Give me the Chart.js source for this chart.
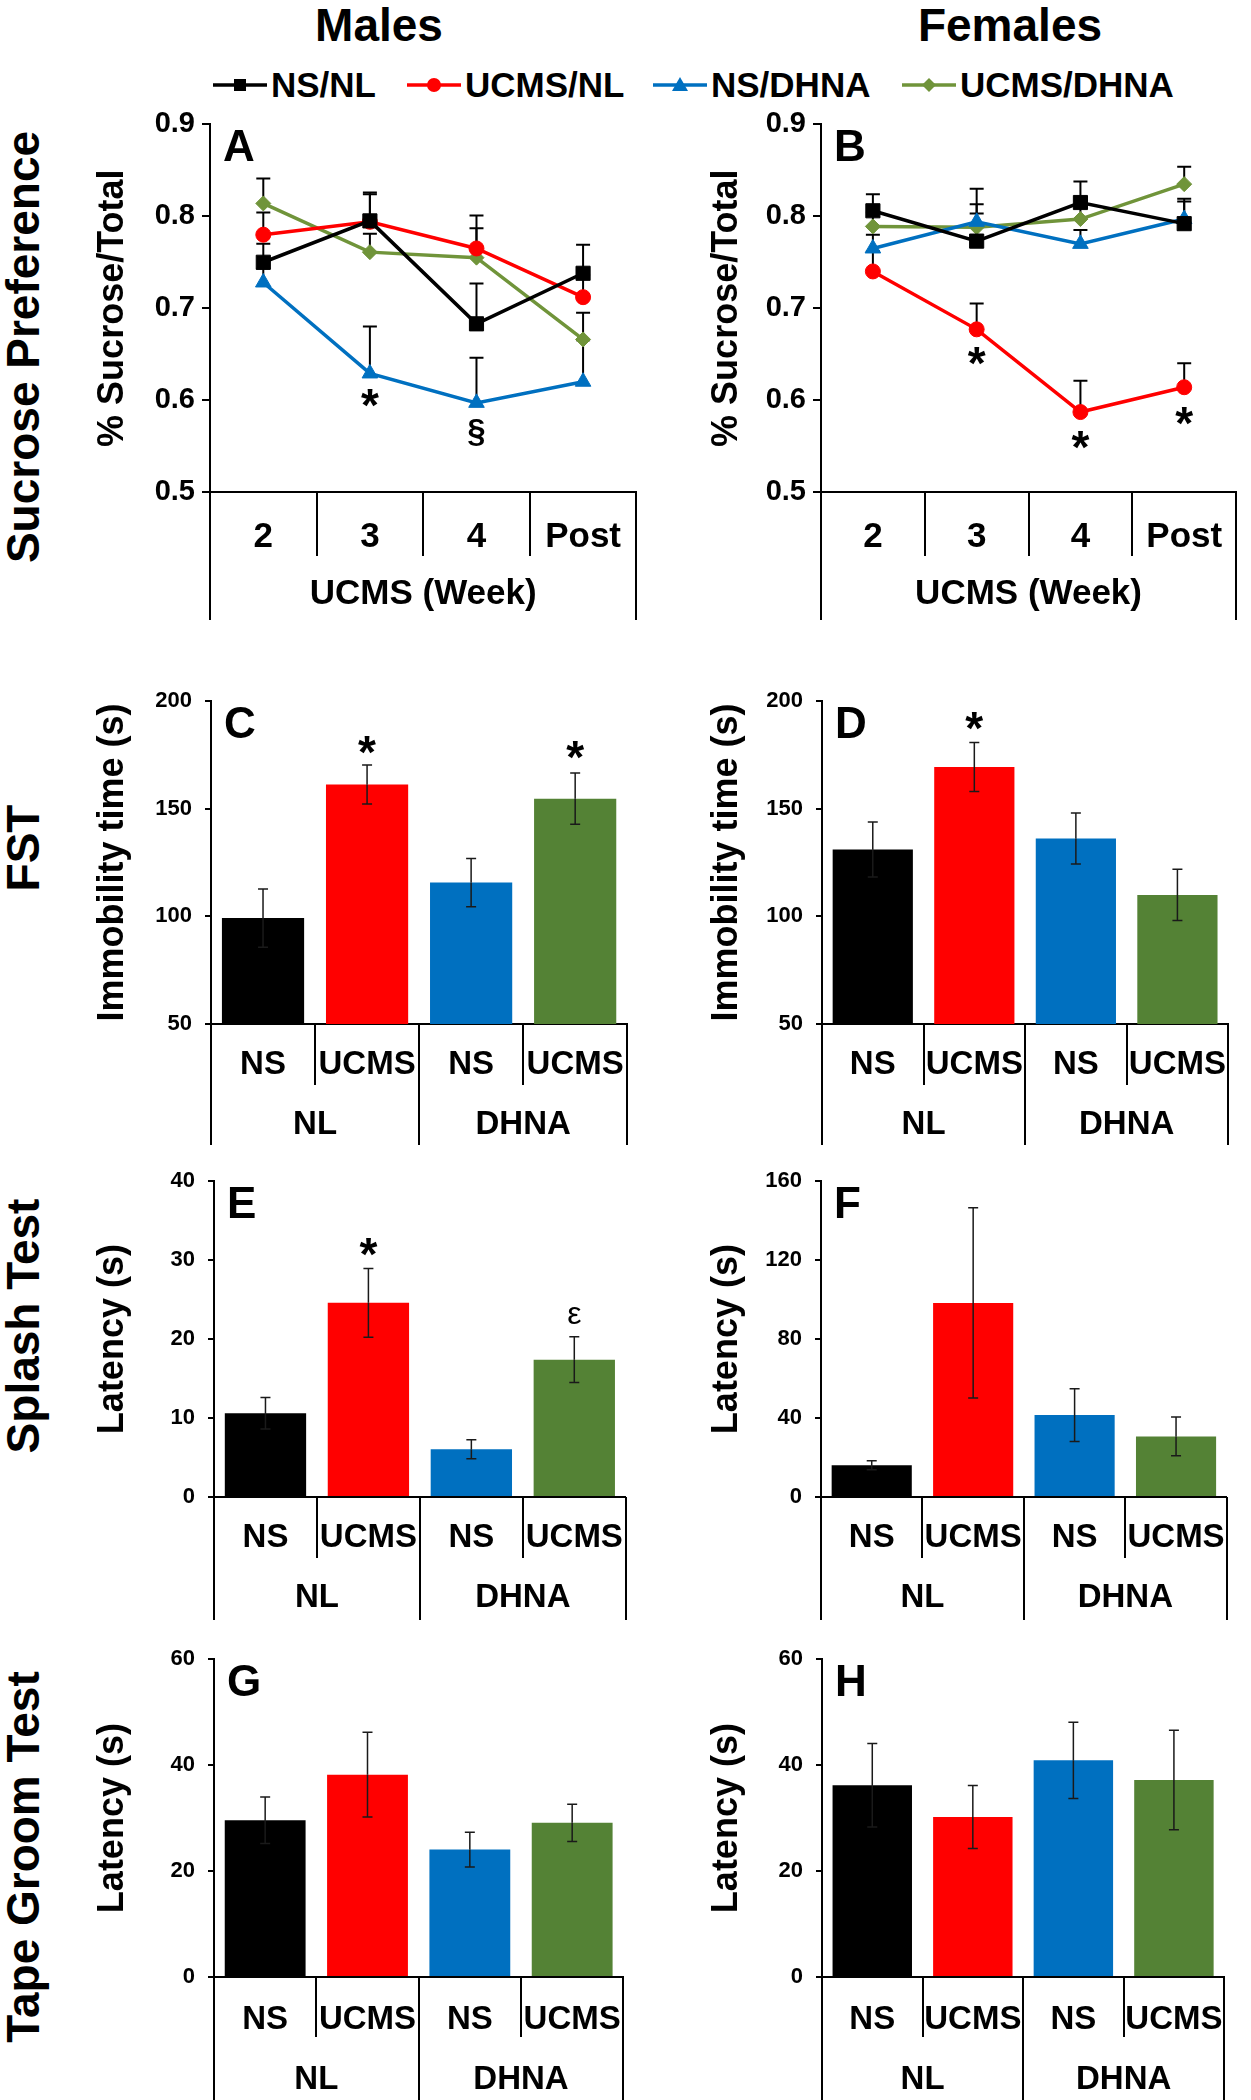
<!DOCTYPE html>
<html><head><meta charset="utf-8">
<script src="https://cdn.jsdelivr.net/npm/chart.js@4.4.1/dist/chart.umd.min.js"></script>
<style>
html,body{margin:0;padding:0;background:#fff;}
body{width:1251px;height:2100px;position:relative;overflow:hidden;font-family:"Liberation Sans",Arial,Helvetica,sans-serif;color:#000;}
.row{position:absolute;transform:translate(-50%,-50%) rotate(-90deg);white-space:nowrap;font-weight:bold;font-size:46px;line-height:1;}
.head{position:absolute;transform:translateX(-50%);font-weight:bold;font-size:46px;line-height:1;top:2px;white-space:nowrap;}
.leg{position:absolute;top:67px;display:flex;align-items:center;font-weight:bold;font-size:35px;line-height:35px;white-space:nowrap;}
.leg svg{margin-right:4px;display:block;}
canvas{position:absolute;}
</style></head>
<body>
<div class="head" style="left:379px">Males</div>
<div class="head" style="left:1010px">Females</div>
<div class="row" style="left:23px;top:347px">Sucrose Preference</div>
<div class="row" style="left:23px;top:848px">FST</div>
<div class="row" style="left:23px;top:1326px">Splash Test</div>
<div class="row" style="left:23px;top:1857px">Tape Groom Test</div>
<div id="legend"></div>

<canvas id="cA" width="580" height="520" style="left:70px;top:100px"></canvas>
<canvas id="cB" width="571" height="520" style="left:680px;top:100px"></canvas>
<canvas id="cC" width="580" height="470" style="left:70px;top:675px"></canvas>
<canvas id="cD" width="571" height="470" style="left:680px;top:675px"></canvas>
<canvas id="cE" width="580" height="465" style="left:70px;top:1155px"></canvas>
<canvas id="cF" width="571" height="465" style="left:680px;top:1155px"></canvas>
<canvas id="cG" width="580" height="467" style="left:70px;top:1633px"></canvas>
<canvas id="cH" width="571" height="467" style="left:680px;top:1633px"></canvas>

<script>
// ---------------- DATA ----------------
const weeks = ['2', '3', '4', 'Post'];
const stressLabels = ['NS', 'UCMS', 'NS', 'UCMS'];
const dietLabels = ['NL', 'DHNA'];
const groupNames = ['NS/NL', 'UCMS/NL', 'NS/DHNA', 'UCMS/DHNA'];

// A: Males, sucrose preference (mean, +SEM)
const spMaleNSNL      = [0.750, 0.795, 0.683, 0.738];
const spMaleUCMSNL    = [0.780, 0.794, 0.765, 0.712];
const spMaleNSDHNA    = [0.728, 0.629, 0.597, 0.620];
const spMaleUCMSDHNA  = [0.814, 0.761, 0.755, 0.666];
const spMaleNSNLErr     = [0.020, 0.031, 0.044, 0.031];
const spMaleUCMSNLErr   = [0.024, 0.030, 0.036, 0.024];
const spMaleNSDHNAErr   = [0.015, 0.051, 0.049, 0.045];
const spMaleUCMSDHNAErr = [0.027, 0.020, 0.032, 0.029];

// B: Females, sucrose preference
const spFemNSNL      = [0.806, 0.773, 0.815, 0.792];
const spFemUCMSNL    = [0.740, 0.677, 0.587, 0.614];
const spFemNSDHNA    = [0.765, 0.794, 0.770, 0.797];
const spFemUCMSDHNA  = [0.789, 0.788, 0.797, 0.835];
const spFemNSNLErr     = [0.018, 0.040, 0.023, 0.027];
const spFemUCMSNLErr   = [0.022, 0.028, 0.034, 0.026];
const spFemNSDHNAErr   = [0.015, 0.036, 0.015, 0.019];
const spFemUCMSDHNAErr = [0.015, 0.015, 0.015, 0.019];

// C/D: FST immobility time (s)
const fstMale      = [99.2, 161.3, 115.7, 154.7];
const fstMaleErr   = [13.5, 9.1, 11.2, 11.9];
const fstFemale    = [131.1, 169.4, 136.2, 110.0];
const fstFemaleErr = [12.8, 11.4, 11.8, 11.9];

// E/F: Splash test latency (s)
const splashMale      = [10.6, 24.6, 6.05, 17.4];
const splashMaleErr   = [2.0, 4.35, 1.2, 2.9];
const splashFemale    = [16.1, 98.3, 41.5, 30.7];
const splashFemaleErr = [2.3, 48.2, 13.4, 9.8];

// G/H: Tape groom test latency (s)
const tapeMale      = [29.6, 38.2, 24.05, 29.1];
const tapeMaleErr   = [4.4, 8.0, 3.3, 3.5];
const tapeFemale    = [36.2, 30.2, 40.9, 37.2];
const tapeFemaleErr = [7.9, 5.95, 7.2, 9.4];

// significance marks: [category index, y value, symbol]
const marksA = [[1, 0.602, '*'], [2, 0.565, '§']];
const marksB = [[1, 0.648, '*'], [2, 0.557, '*'], [3, 0.583, '*']];
const marksC = [[1, 179.6, '*'], [3, 177.3, '*']];
const marksD = [[1, 191.0, '*']];
const marksE = [[1, 31.7, '*'], [3, 23.0, 'ε']];

// ---------------- STYLE ----------------
const FONT = '"Liberation Sans", Arial, Helvetica, sans-serif';
Chart.defaults.font.family = FONT;
Chart.defaults.color = '#000';
const lineColors = ['#000000', '#FF0000', '#0070C0', '#70943A'];
const barColors  = ['#000000', '#FF0000', '#0070C0', '#548235'];
const pointStyles = ['rect', 'circle', 'triangle', 'rectRot'];
const pointRadii  = [10, 7.5, 9, 7.5];

// legend (HTML)
(function () {
  const lefts = [213, 407, 653, 902];
  const marker = [
    c => `<rect x="21" y="4" width="12" height="12" fill="${c}"/>`,
    c => `<circle cx="27" cy="10" r="7" fill="${c}"/>`,
    c => `<polygon points="27,2 35,16 19,16" fill="${c}"/>`,
    c => `<polygon points="27,3 34,10 27,17 20,10" fill="${c}"/>`
  ];
  const host = document.getElementById('legend');
  groupNames.forEach((name, k) => {
    const d = document.createElement('div');
    d.className = 'leg';
    d.style.left = lefts[k] + 'px';
    d.innerHTML = `<svg width="54" height="20"><line x1="0" y1="10" x2="54" y2="10" stroke="${lineColors[k]}" stroke-width="3.5"/>${marker[k](lineColors[k])}</svg><span>${name}</span>`;
    host.appendChild(d);
  });
})();

// ---------------- PLUGIN ----------------
function drawErrors(chart, o) {
  const ctx = chart.ctx;
  ctx.save();
  ctx.strokeStyle = o.errColor || '#000';
  ctx.lineWidth = o.errWidth || 2;
  chart.data.datasets.forEach((ds, di) => {
    const meta = chart.getDatasetMeta(di);
    const ys = chart.scales[meta.yAxisID];
    ds.data.forEach((v, i) => {
      const el = meta.data[i];
      if (!el) return;
      const x = el.x;
      const y0 = ys.getPixelForValue(v);
      const half = (o.capW || 10) / 2;
      [ds.errUp ? ds.errUp[i] : null, ds.errDown ? -ds.errDown[i] : null].forEach(e => {
        if (e === null || e === undefined) return;
        const y1 = ys.getPixelForValue(v + e);
        ctx.beginPath();
        ctx.moveTo(x, y0); ctx.lineTo(x, y1);
        ctx.moveTo(x - half, y1); ctx.lineTo(x + half, y1);
        ctx.stroke();
      });
    });
  });
  ctx.restore();
}
function drawFrame(chart, o) {
  const ctx = chart.ctx, xs = chart.scales.x, ca = chart.chartArea;
  const n = xs.getLabels().length;
  const w = (xs.right - xs.left) / n;
  ctx.save();
  ctx.strokeStyle = '#000';
  ctx.lineWidth = 2;
  for (let i = 0; i <= n; i++) {
    const x = Math.round(xs.left + i * w);
    let yEnd;
    if (o.frame === 'line') {
      yEnd = (i === 0 || i === n) ? ca.bottom + o.outer : ca.bottom + o.inner;
    } else {
      const x2 = chart.scales.x2;
      yEnd = (i % 2 === 0) ? x2.bottom : xs.bottom;
    }
    ctx.beginPath();
    ctx.moveTo(x, ca.bottom); ctx.lineTo(x, yEnd);
    ctx.stroke();
  }
  ctx.restore();
}
function drawMarks(chart, o) {
  if (!o.marks) return;
  const ctx = chart.ctx, xs = chart.scales.x, ys = chart.scales.y;
  ctx.save();
  ctx.fillStyle = '#000';
  ctx.textAlign = 'center';
  ctx.textBaseline = 'alphabetic';
  o.marks.forEach(m => {
    const sym = m[2];
    ctx.font = sym === '*' ? `bold 46px ${FONT}` : (sym === '§' ? `bold 33px ${FONT}` : `32px ${FONT}`);
    const x = xs.getPixelForValue(m[0]);
    const yc = ys.getPixelForValue(m[1]);
    const mt = ctx.measureText(sym);
    const asc = mt.actualBoundingBoxAscent, desc = mt.actualBoundingBoxDescent;
    ctx.fillText(sym, x, yc + (asc - desc) / 2);
  });
  ctx.restore();
}
function drawLetter(chart, o) {
  const ctx = chart.ctx, ca = chart.chartArea;
  ctx.save();
  ctx.fillStyle = '#000';
  ctx.font = `bold 44px ${FONT}`;
  ctx.textAlign = 'left';
  ctx.textBaseline = 'alphabetic';
  ctx.fillText(o.letter, ca.left + 13, ca.top + 37);
  ctx.restore();
}
const panelDecor = {
  id: 'panelDecor',
  beforeDatasetsDraw(chart, args, o) { if (o.errBehind) drawErrors(chart, o); },
  afterDatasetsDraw(chart, args, o) {
    if (!o.errBehind) drawErrors(chart, o);
    drawFrame(chart, o);
    drawMarks(chart, o);
    drawLetter(chart, o);
  }
};

// ---------------- AXES ----------------
function mkY(c) {
  return {
    position: 'left', min: c.min, max: c.max,
    ticks: {stepSize: c.step, font: {size: c.tickSize, weight: 'bold'}, color: '#000', padding: c.tickPad,
            callback: c.fmt || (v => v)},
    grid: {drawOnChartArea: false, drawTicks: true, tickLength: c.tickLen, color: '#000', lineWidth: 2},
    border: {display: true, color: '#000', width: 2},
    title: {display: true, text: c.title, color: '#000', font: {size: 36, weight: 'bold', lineHeight: 1},
            padding: {top: c.tPad, bottom: 0}},
    afterFit: s => { s.width = c.w; }
  };
}

function lineChart(c) {
  const datasets = c.series.map((d, k) => ({
    label: groupNames[k], data: d, errUp: c.errs[k],
    borderColor: lineColors[k], backgroundColor: lineColors[k],
    pointBackgroundColor: lineColors[k], pointBorderColor: lineColors[k],
    pointStyle: pointStyles[k], pointRadius: pointRadii[k], pointBorderWidth: 1,
    borderWidth: 3.5, tension: 0, fill: false, xAxisID: 'x', yAxisID: 'y'
  }));
  return new Chart(document.getElementById(c.id), {
    type: 'line',
    data: {labels: weeks, datasets},
    options: {
      responsive: false, animation: false, devicePixelRatio: 1,
      layout: {padding: {top: 18, right: c.padR, left: 0, bottom: 0}},
      plugins: {legend: {display: false}, tooltip: {enabled: false},
        panelDecor: {letter: c.letter, frame: 'line', inner: 64, outer: 128, marks: c.marks,
                     errBehind: true, errWidth: 2, errColor: '#000', capW: 14}},
      scales: {
        x: {type: 'category', offset: true, grid: {display: false, drawTicks: false},
            border: {display: true, color: '#000', width: 2},
            ticks: {font: {size: 35, weight: 'bold', lineHeight: 1}, color: '#000', padding: 27.5,
                    maxRotation: 0, minRotation: 0, autoSkip: false},
            title: {display: true, text: 'UCMS (Week)', color: '#000',
                    font: {size: 35, weight: 'bold', lineHeight: 1}, padding: {top: 0, bottom: 8.5}},
            afterFit: s => { s.height = 128; }},
        y: mkY({min: 0.5, max: 0.9, step: 0.1, tickSize: 29, tickPad: 7, tickLen: 8,
                fmt: v => Number(v).toFixed(1), title: '% Sucrose/Total', tPad: c.tPad, w: c.yW})
      }
    },
    plugins: [panelDecor]
  });
}

function barChart(c) {
  return new Chart(document.getElementById(c.id), {
    type: 'bar',
    data: {labels: stressLabels, datasets: [{
      data: c.values, errUp: c.errs, errDown: c.errs,
      backgroundColor: barColors, borderWidth: 0,
      barPercentage: 0.79, categoryPercentage: 1, xAxisID: 'x', yAxisID: 'y'
    }]},
    options: {
      responsive: false, animation: false, devicePixelRatio: 1,
      layout: {padding: {top: 18, right: c.padR, left: 0, bottom: 0}},
      plugins: {legend: {display: false}, tooltip: {enabled: false},
        panelDecor: {letter: c.letter, frame: 'bar', marks: c.marks,
                     errBehind: false, errWidth: 1.5, errColor: '#1a1a1a', capW: 10}},
      scales: {
        x: {type: 'category', offset: true, grid: {display: false, drawTicks: false},
            border: {display: true, color: '#000', width: 2},
            ticks: {font: {size: 33, weight: 'bold', lineHeight: 1}, color: '#000', padding: c.xPad,
                    maxRotation: 0, minRotation: 0, autoSkip: false},
            afterFit: s => { s.height = c.xH; }},
        x2: {type: 'category', labels: dietLabels, position: 'bottom', weight: 1, offset: true,
             grid: {display: false, drawTicks: false}, border: {display: false},
             ticks: {font: {size: 33, weight: 'bold', lineHeight: 1}, color: '#000', padding: c.x2Pad,
                     maxRotation: 0, minRotation: 0, autoSkip: false},
             afterFit: s => { s.height = c.x2H; }},
        y: mkY({min: c.min, max: c.max, step: c.step, tickSize: 22, tickPad: 13, tickLen: 6,
                title: c.title, tPad: c.tPad, w: c.yW})
      }
    },
    plugins: [panelDecor]
  });
}

// ---------------- PANELS ----------------
lineChart({id: 'cA', letter: 'A', yW: 140, padR: 12, tPad: 25, marks: marksA,
  series: [spMaleNSNL, spMaleUCMSNL, spMaleNSDHNA, spMaleUCMSDHNA],
  errs: [spMaleNSNLErr, spMaleUCMSNLErr, spMaleNSDHNAErr, spMaleUCMSDHNAErr]});
lineChart({id: 'cB', letter: 'B', yW: 141, padR: 5, tPad: 29, marks: marksB,
  series: [spFemNSNL, spFemUCMSNL, spFemNSDHNA, spFemUCMSDHNA],
  errs: [spFemNSNLErr, spFemUCMSNLErr, spFemNSDHNAErr, spFemUCMSDHNAErr]});

barChart({id: 'cC', letter: 'C', values: fstMale, errs: fstMaleErr, marks: marksC,
  min: 50, max: 200, step: 50, title: 'Immobility time (s)', yW: 141, padR: 14, tPad: 25,
  xH: 61, x2H: 60, xPad: 24.5, x2Pad: 23.5});
barChart({id: 'cD', letter: 'D', values: fstFemale, errs: fstFemaleErr, marks: marksD,
  min: 50, max: 200, step: 50, title: 'Immobility time (s)', yW: 142, padR: 4, tPad: 29,
  xH: 61, x2H: 60, xPad: 24.5, x2Pad: 23.5});
barChart({id: 'cE', letter: 'E', values: splashMale, errs: splashMaleErr, marks: marksE,
  min: 0, max: 40, step: 10, title: 'Latency (s)', yW: 144, padR: 21, tPad: 25,
  xH: 61, x2H: 62, xPad: 24.5, x2Pad: 23.5});
barChart({id: 'cF', letter: 'F', values: splashFemale, errs: splashFemaleErr, marks: null,
  min: 0, max: 160, step: 40, title: 'Latency (s)', yW: 141, padR: 15, tPad: 29,
  xH: 61, x2H: 62, xPad: 24.5, x2Pad: 23.5});
barChart({id: 'cG', letter: 'G', values: tapeMale, errs: tapeMaleErr, marks: null,
  min: 0, max: 60, step: 20, title: 'Latency (s)', yW: 144, padR: 22, tPad: 25,
  xH: 60, x2H: 63, xPad: 26.5, x2Pad: 26.5});
barChart({id: 'cH', letter: 'H', values: tapeFemale, errs: tapeFemaleErr, marks: null,
  min: 0, max: 60, step: 20, title: 'Latency (s)', yW: 142, padR: 16, tPad: 29,
  xH: 60, x2H: 63, xPad: 26.5, x2Pad: 26.5});
</script>
</body></html>
